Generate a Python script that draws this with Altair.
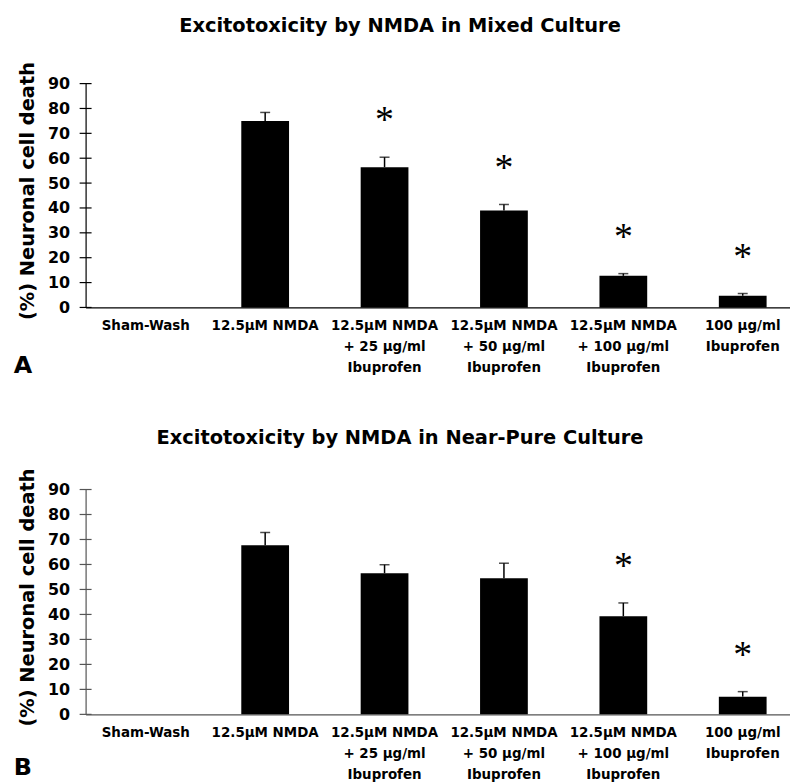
import altair as alt
import pandas as pd

categories = [
    "Sham-Wash",
    "12.5µM NMDA",
    "12.5µM NMDA\n+ 25 µg/ml\nIbuprofen",
    "12.5µM NMDA\n+ 50 µg/ml\nIbuprofen",
    "12.5µM NMDA\n+ 100 µg/ml\nIbuprofen",
    "100 µg/ml\nIbuprofen",
]
mixed_mean = [0, 75.0, 56.4, 39.0, 12.7, 4.7]
mixed_err = [0, 3.4, 4.0, 2.4, 0.9, 0.9]
mixed_sig = ["", "", "*", "*", "*", "*"]
pure_mean = [0, 67.7, 56.5, 54.5, 39.3, 7.1]
pure_err = [0, 5.1, 3.4, 6.0, 5.3, 2.0]
pure_sig = ["", "", "", "", "*", "*"]
y_ticks = [0, 10, 20, 30, 40, 50, 60, 70, 80, 90]
titles = ["Excitotoxicity by NMDA in Mixed Culture",
          "Excitotoxicity by NMDA in Near-Pure Culture"]
panel_letters = ["A", "B"]
y_title = "(%) Neuronal cell death"

FONT = "DejaVu Sans"
W = 708


def panel(title, mean, err, sig, letter, axis_color, H, title_y, letter_y):
    df = pd.DataFrame({"cat": categories, "mean": mean, "err": err, "sig": sig})
    base = alt.Chart(df).transform_calculate(top="datum.mean + datum.err")
    xscale = alt.Scale(paddingInner=0.6, paddingOuter=0.25, align=0.608)
    xaxis = alt.Axis(title=None, labelAngle=0,
                     labelExpr="split(datum.label, '\\n')",
                     labelFont=FONT, labelFontSize=13.5, labelFontWeight="bold",
                     labelColor="black", labelLineHeight=21, labelPadding=11,
                     ticks=False, tickSize=0, domainColor=axis_color,
                     domainWidth=1.2, labelLimit=0, grid=False)
    yscale = alt.Scale(domain=[0, 90], nice=False)
    yaxis = alt.Axis(title=y_title, values=y_ticks, ticks=False, tickSize=0,
                     labelFont=FONT, labelFontSize=16, labelFontWeight="bold",
                     labelColor="black", labelPadding=16,
                     titleFont=FONT, titleFontSize=19.5, titleFontWeight="bold",
                     titleColor="black", titlePadding=10, titleY=H / 2 - 5,
                     domainColor=axis_color, domainWidth=1.2, grid=False)
    x = alt.X("cat:N", sort=categories, scale=xscale, axis=xaxis)

    bars = base.mark_bar(color="black").encode(
        x=x, y=alt.Y("mean:Q", scale=yscale, axis=yaxis))
    nz = base.transform_filter("datum.mean > 0")
    err_line = nz.mark_rule(color="black", strokeWidth=1.5).encode(
        x=x, y=alt.Y("mean:Q", scale=yscale, axis=yaxis), y2="top:Q")
    caps = nz.mark_tick(color="black", thickness=1.5, size=10).encode(
        x=x, y=alt.Y("top:Q", scale=yscale, axis=yaxis))
    stars = nz.mark_text(font="Liberation Serif", fontSize=38,
                         baseline="alphabetic", dy=-25, color="black").encode(
        x=x, y=alt.Y("top:Q", scale=yscale, axis=yaxis), text="sig:N")
    cross = alt.Chart(pd.DataFrame({"v": y_ticks})).mark_rule(
        color=axis_color, strokeWidth=1.2).encode(
        y=alt.Y("v:Q", scale=yscale, axis=yaxis),
        x=alt.value(-6), x2=alt.value(6))
    lab = alt.Chart(pd.DataFrame({"t": [letter]})).mark_text(
        font=FONT, fontSize=24, fontWeight="bold", align="center",
        baseline="middle", color="black").encode(
        text="t:N", x=alt.value(-63), y=alt.value(H + letter_y))
    ttl = alt.Chart(pd.DataFrame({"t": [title]})).mark_text(
        font=FONT, fontSize=19.5, fontWeight="bold", align="center",
        baseline="alphabetic", color="black").encode(
        text="t:N", x=alt.value(316), y=alt.value(title_y))
    return alt.layer(bars, err_line, caps, stars, cross, lab, ttl).properties(
        width=W, height=H)


top = panel(titles[0], mixed_mean, mixed_err, mixed_sig, panel_letters[0],
            "black", 225, -52, 59)
bottom = panel(titles[1], pure_mean, pure_err, pure_sig, panel_letters[1],
               "#555555", 226, -46, 54)

chart = alt.vconcat(top, bottom, spacing=50).properties(
    padding={"left": 5, "top": 6, "right": 0, "bottom": 0},
    background="white",
).configure_view(strokeWidth=0)

chart.save("out.html", embed_options={"renderer": "svg", "actions": False})
